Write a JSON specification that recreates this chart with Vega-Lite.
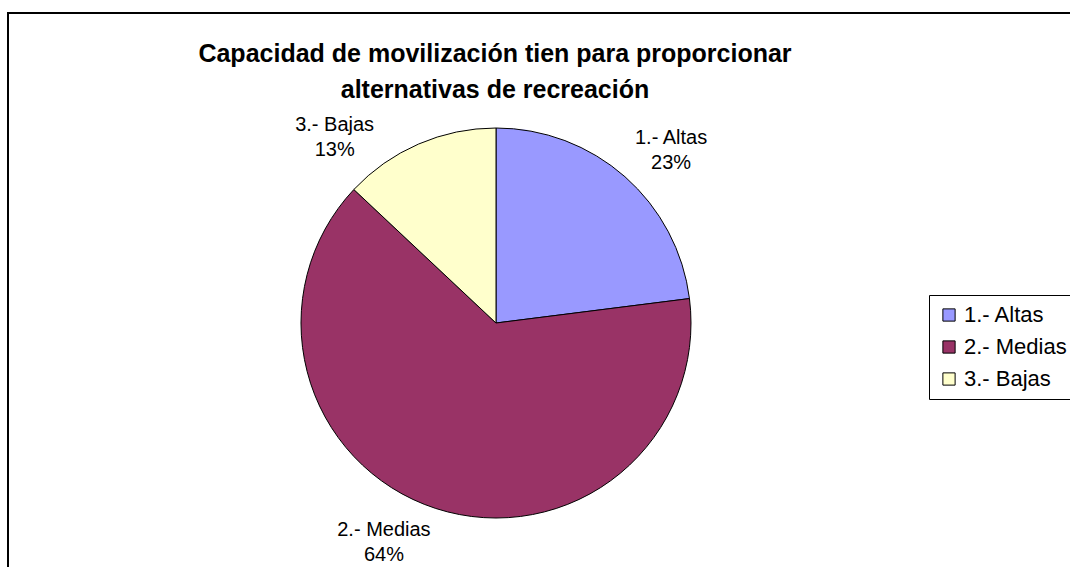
{
  "$schema": "https://vega.github.io/schema/vega-lite/v6.json",
  "width": 1070,
  "height": 560,
  "autosize": "none",
  "padding": {"left": 8, "top": 13, "right": 0, "bottom": 0},
  "background": "white",
  "view": {"stroke": "black", "strokeWidth": 2, "fill": "white"},
  "config": {
    "view": {"stroke": "black", "strokeWidth": 2},
    "font": "Liberation Sans"
  },
  "title": {
    "text": ["Capacidad de movilización tien para proporcionar", "alternativas de recreación"],
    "font": "Liberation Sans",
    "fontSize": 25,
    "fontWeight": "bold",
    "color": "black",
    "anchor": "middle",
    "lineHeight": 36,
    "offset": 0,
    "dx": -48,
    "dy": 90
  },
  "data": {
    "values": [
      {"cat": "1.- Altas", "value": 23, "pct": "23%"},
      {"cat": "2.- Medias", "value": 64, "pct": "64%"},
      {"cat": "3.- Bajas", "value": 13, "pct": "13%"}
    ]
  },
  "transform": [
    {"calculate": "datum.cat + '\\n' + datum.pct", "as": "lbl"}
  ],
  "encoding": {
    "theta": {"field": "value", "type": "quantitative", "stack": true},
    "order": {"field": "cat", "type": "nominal"}
  },
  "layer": [
    {
      "mark": {"type": "arc", "outerRadius": 195, "x": 488, "y": 310, "stroke": "black", "strokeWidth": 1},
      "encoding": {
        "color": {
          "field": "cat",
          "type": "nominal",
          "scale": {"domain": ["1.- Altas", "2.- Medias", "3.- Bajas"], "range": ["#9999FF", "#993366", "#FFFFCC"]},
          "legend": {
            "title": null,
            "orient": "none",
            "legendX": 921,
            "legendY": 282,
            "strokeColor": "black",
            "fillColor": "white",
            "padding": 9,
            "symbolType": "square",
            "symbolSize": 150,
            "symbolStrokeColor": "black",
            "symbolStrokeWidth": 1,
            "symbolOpacity": 1,
            "labelFont": "Liberation Sans",
            "labelFontSize": 22,
            "labelColor": "black",
            "labelLimit": 300,
            "rowPadding": 10
          }
        }
      }
    },
    {
      "mark": {"type": "text", "radius": 230, "x": 488, "y": 310, "dx": 23, "dy": -12, "font": "Liberation Sans", "fontSize": 20, "lineBreak": "\n", "lineHeight": 25, "align": "center", "baseline": "middle", "color": "black"},
      "encoding": {
        "text": {"condition": {"test": "datum.cat === '1.- Altas'", "field": "lbl"}, "value": ""}
      }
    },
    {
      "mark": {"type": "text", "radius": 230, "x": 488, "y": 310, "dx": -41, "dy": -12, "font": "Liberation Sans", "fontSize": 20, "lineBreak": "\n", "lineHeight": 25, "align": "center", "baseline": "middle", "color": "black"},
      "encoding": {
        "text": {"condition": {"test": "datum.cat === '2.- Medias'", "field": "lbl"}, "value": ""}
      }
    },
    {
      "mark": {"type": "text", "radius": 230, "x": 488, "y": 310, "dx": -70, "dy": 13, "font": "Liberation Sans", "fontSize": 20, "lineBreak": "\n", "lineHeight": 25, "align": "center", "baseline": "middle", "color": "black"},
      "encoding": {
        "text": {"condition": {"test": "datum.cat === '3.- Bajas'", "field": "lbl"}, "value": ""}
      }
    }
  ]
}
